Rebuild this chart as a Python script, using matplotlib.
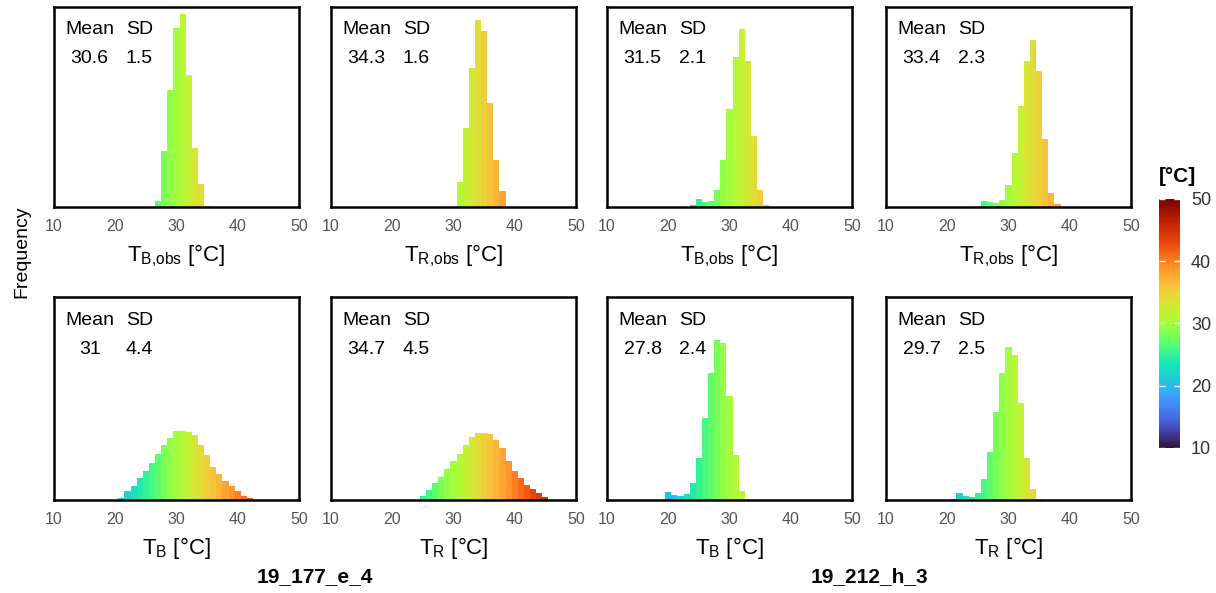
import numpy as np
import matplotlib
matplotlib.use("Agg")
import matplotlib.pyplot as plt
from matplotlib.colors import Normalize
from matplotlib.path import Path
from matplotlib.cm import ScalarMappable

plt.rcParams["font.family"] = ["Liberation Sans", "DejaVu Sans"]
plt.rcParams["mathtext.fontset"] = "custom"
plt.rcParams["mathtext.rm"] = "Liberation Sans"
plt.rcParams["mathtext.it"] = "Liberation Sans:italic"
plt.rcParams["mathtext.bf"] = "Liberation Sans:bold"

# Histogram counts per 1 degC bin (first bin centre given separately)
tb_obs_177_start = 27
tb_obs_177 = [18, 165, 347, 530, 570, 390, 175, 67, 3]
tr_obs_177_start = 31
tr_obs_177 = [73, 233, 411, 553, 521, 308, 138, 46]
tb_obs_212_start = 24
tb_obs_212 = [5, 23, 15, 17, 50, 140, 290, 443, 527, 433, 210, 50, 5]
tr_obs_212_start = 26
tr_obs_212 = [18, 15, 12, 22, 65, 160, 300, 432, 495, 403, 200, 40, 8]

tb_177_start = 21
tb_177 = [5, 25, 40, 65, 85, 107, 135, 160, 180, 200, 200, 198, 190, 160,
          130, 97, 75, 55, 40, 25, 13, 5]
tr_177_start = 25
tr_177 = [11, 30, 50, 68, 90, 113, 135, 161, 183, 195, 195, 193, 175, 153,
          115, 85, 63, 43, 33, 21, 8]
tb_212_start = 20
tb_212 = [22, 14, 12, 17, 49, 122, 240, 369, 467, 457, 302, 132, 25, 2]
tr_212_start = 21
tr_212 = [4, 19, 12, 9, 20, 60, 140, 257, 369, 445, 422, 282, 122, 32, 2]

means = [30.6, 34.3, 31.5, 33.4, 31, 34.7, 27.8, 29.7]
sds = [1.5, 1.6, 2.1, 2.3, 4.4, 4.5, 2.4, 2.5]

xlabels = [r"$\mathrm{T}_{\mathrm{B{,}obs}}$ [°C]", r"$\mathrm{T}_{\mathrm{R{,}obs}}$ [°C]",
           r"$\mathrm{T}_{\mathrm{B{,}obs}}$ [°C]", r"$\mathrm{T}_{\mathrm{R{,}obs}}$ [°C]",
           r"$\mathrm{T}_{\mathrm{B}}$ [°C]", r"$\mathrm{T}_{\mathrm{R}}$ [°C]",
           r"$\mathrm{T}_{\mathrm{B}}$ [°C]", r"$\mathrm{T}_{\mathrm{R}}$ [°C]"]
site_labels = ["19_177_e_4", "19_212_h_3"]
xticks = [10, 20, 30, 40, 50]
cbar_ticks = [10, 20, 30, 40, 50]

series = [(tb_obs_177_start, tb_obs_177), (tr_obs_177_start, tr_obs_177),
          (tb_obs_212_start, tb_obs_212), (tr_obs_212_start, tr_obs_212),
          (tb_177_start, tb_177), (tr_177_start, tr_177),
          (tb_212_start, tb_212), (tr_212_start, tr_212)]

W, H = 1216, 593
fig = plt.figure(figsize=(W / 100, H / 100), dpi=100)

lefts = [54, 331, 607, 886]
pw = 245
rows = [(7, 207), (297, 500)]
YMAX = 592
cmap = plt.get_cmap("turbo")
norm = Normalize(10, 50)
grad = np.linspace(10, 50, 600).reshape(1, -1)

for i, (start, counts) in enumerate(series):
    r, c = divmod(i, 4)
    top, bot = rows[r]
    ax = fig.add_axes([lefts[c] / W, 1 - bot / H, pw / W, (bot - top) / H])
    centers = start + np.arange(len(counts))
    bars = ax.bar(centers, counts, width=1.0, color=cmap(norm(centers)),
                  linewidth=0)
    # horizontal colour gradient filling the bar outlines
    paths = [b.get_path().transformed(b.get_patch_transform()) for b in bars]
    clip = Path.make_compound_path(*paths)
    im = ax.imshow(grad, extent=(10, 50, 0, YMAX), aspect="auto", cmap=cmap,
                   norm=norm, origin="lower", interpolation="bilinear")
    im.set_clip_path(clip, ax.transData)
    ax.set_xlim(10, 50)
    ax.set_ylim(0, YMAX)
    ax.set_xticks(xticks)
    ax.set_yticks([])
    ax.tick_params(axis="x", length=0, pad=8.5, labelsize=11.5,
                   labelcolor="#555555")
    for s in ax.spines.values():
        s.set_linewidth(1.8)
        s.set_color("black")
    ax.set_xlabel(xlabels[i], fontsize=16, labelpad=6)
    ax.text(0.1455, 0.863, "Mean", transform=ax.transAxes, ha="center",
            va="baseline", fontsize=14)
    ax.text(0.348, 0.863, "SD", transform=ax.transAxes, ha="center",
            va="baseline", fontsize=14)
    ax.text(0.1455, 0.718, f"{means[i]:g}", transform=ax.transAxes,
            ha="center", va="baseline", fontsize=14)
    ax.text(0.348, 0.718, f"{sds[i]:g}", transform=ax.transAxes,
            ha="center", va="baseline", fontsize=14)

fig.text(22 / W, 1 - 252 / H, "Frequency", rotation=90, ha="center",
         va="center", fontsize=14)
fig.text(315 / W, 1 - 577 / H, site_labels[0], ha="center", va="center",
         fontsize=15, fontweight="bold")
fig.text(869 / W, 1 - 577 / H, site_labels[1], ha="center", va="center",
         fontsize=15, fontweight="bold")

# colour scale
cax = fig.add_axes([1159 / W, 1 - 448 / H, 21 / W, 249 / H])
cb = fig.colorbar(ScalarMappable(norm=norm, cmap=cmap), cax=cax,
                  ticks=cbar_ticks)
cb.outline.set_visible(False)
cax.tick_params(direction="in", color="white", length=4, width=1,
                left=True, right=True, pad=8, labelsize=13,
                labelcolor="#333333")
fig.text(1159 / W, 1 - 177 / H, "[°C]", ha="left", va="center",
         fontsize=15, fontweight="bold")

fig.savefig("out.png", dpi=100)
